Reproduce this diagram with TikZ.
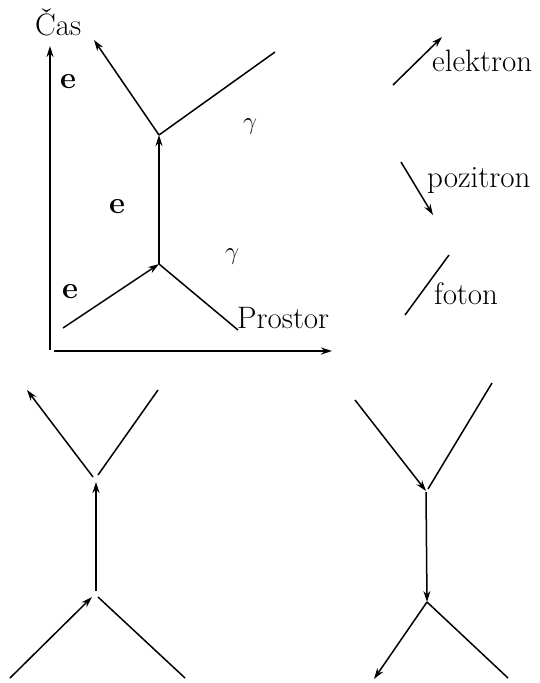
\documentclass[tikz,border=0pt]{standalone}
\usetikzlibrary{arrows.meta}
\begin{document}
\begin{tikzpicture}[x=1pt,y=-1pt,
  line/.style={line width=1.5pt},
  arr/.style={line width=1.5pt,-{Stealth[length=11pt,width=7pt]}},
  lbl/.style={inner sep=0pt,font=\fontsize{31}{35}\selectfont},
  blbl/.style={inner sep=0pt,font=\fontsize{31}{35}\selectfont\bfseries}]
\useasboundingbox (0,0) rectangle (539,683);
% axes
\coordinate (o1) at (50,350);
\coordinate (ty) at (50,46);
\coordinate (o2) at (54,351);
\coordinate (tx) at (332,351);
\draw[arr] (o1) -- (ty);
\draw[arr] (o2) -- (tx);
\node[lbl,anchor=base west] (cas) at (35,35) {\v{C}as};
\node[lbl,anchor=base west] (prostor) at (237,328) {Prostor};
% main diagram
\coordinate (vt) at (159,135);
\coordinate (vb) at (159,264);
\coordinate (a1) at (94,40);
\coordinate (a2) at (275,52);
\coordinate (a3) at (63,328);
\coordinate (a4) at (238,330);
\draw[arr] (vt) -- (a1);
\draw[line] (vt) -- (a2);
\draw[arr] (vb) -- (vt);
\draw[arr] (a3) -- (vb);
\draw[line] (vb) -- (a4);
\node[blbl] (e1) at (68,82) {e};
\node[blbl] (e2) at (117,207) {e};
\node[blbl] (e3) at (70,292) {e};
\node[lbl] (g1) at (250,127) {$\gamma$};
\node[lbl] (g2) at (232,257) {$\gamma$};
% legend
\coordinate (l1a) at (393,85);
\coordinate (l1b) at (442,37);
\draw[arr] (l1a) -- (l1b);
\node[lbl,anchor=base west] (elektron) at (432,71) {elektron};
\coordinate (l2a) at (401,162);
\coordinate (l2b) at (433,215);
\draw[arr] (l2a) -- (l2b);
\node[lbl,anchor=base west] (pozitron) at (427,187) {pozitron};
\coordinate (l3a) at (405,315);
\coordinate (l3b) at (449,255);
\draw[line] (l3a) -- (l3b);
\node[lbl,anchor=base west] (foton) at (434,304) {foton};
% bottom left
\coordinate (bl1) at (93,477);
\coordinate (bl2) at (27,390);
\coordinate (bl3) at (98,475);
\coordinate (bl4) at (158,390);
\coordinate (bl5) at (96,591);
\coordinate (bl6) at (96,482);
\coordinate (bl7) at (10,678);
\coordinate (bl8) at (92,597);
\coordinate (bl9) at (98,597);
\coordinate (bl10) at (185,678);
\draw[arr] (bl1) -- (bl2);
\draw[line] (bl3) -- (bl4);
\draw[arr] (bl5) -- (bl6);
\draw[arr] (bl7) -- (bl8);
\draw[line] (bl9) -- (bl10);
% bottom right
\coordinate (br1) at (355,400);
\coordinate (br2) at (426,491);
\coordinate (br3) at (492,383);
\coordinate (br4) at (428,489);
\coordinate (br5) at (426,492);
\coordinate (br6) at (427,602);
\coordinate (br7) at (374,679);
\coordinate (br8) at (508,678);
\draw[arr] (br1) -- (br2);
\draw[line] (br3) -- (br4);
\draw[arr] (br5) -- (br6);
\draw[arr] (br6) -- (br7);
\draw[line] (br6) -- (br8);
\end{tikzpicture}
\end{document}
